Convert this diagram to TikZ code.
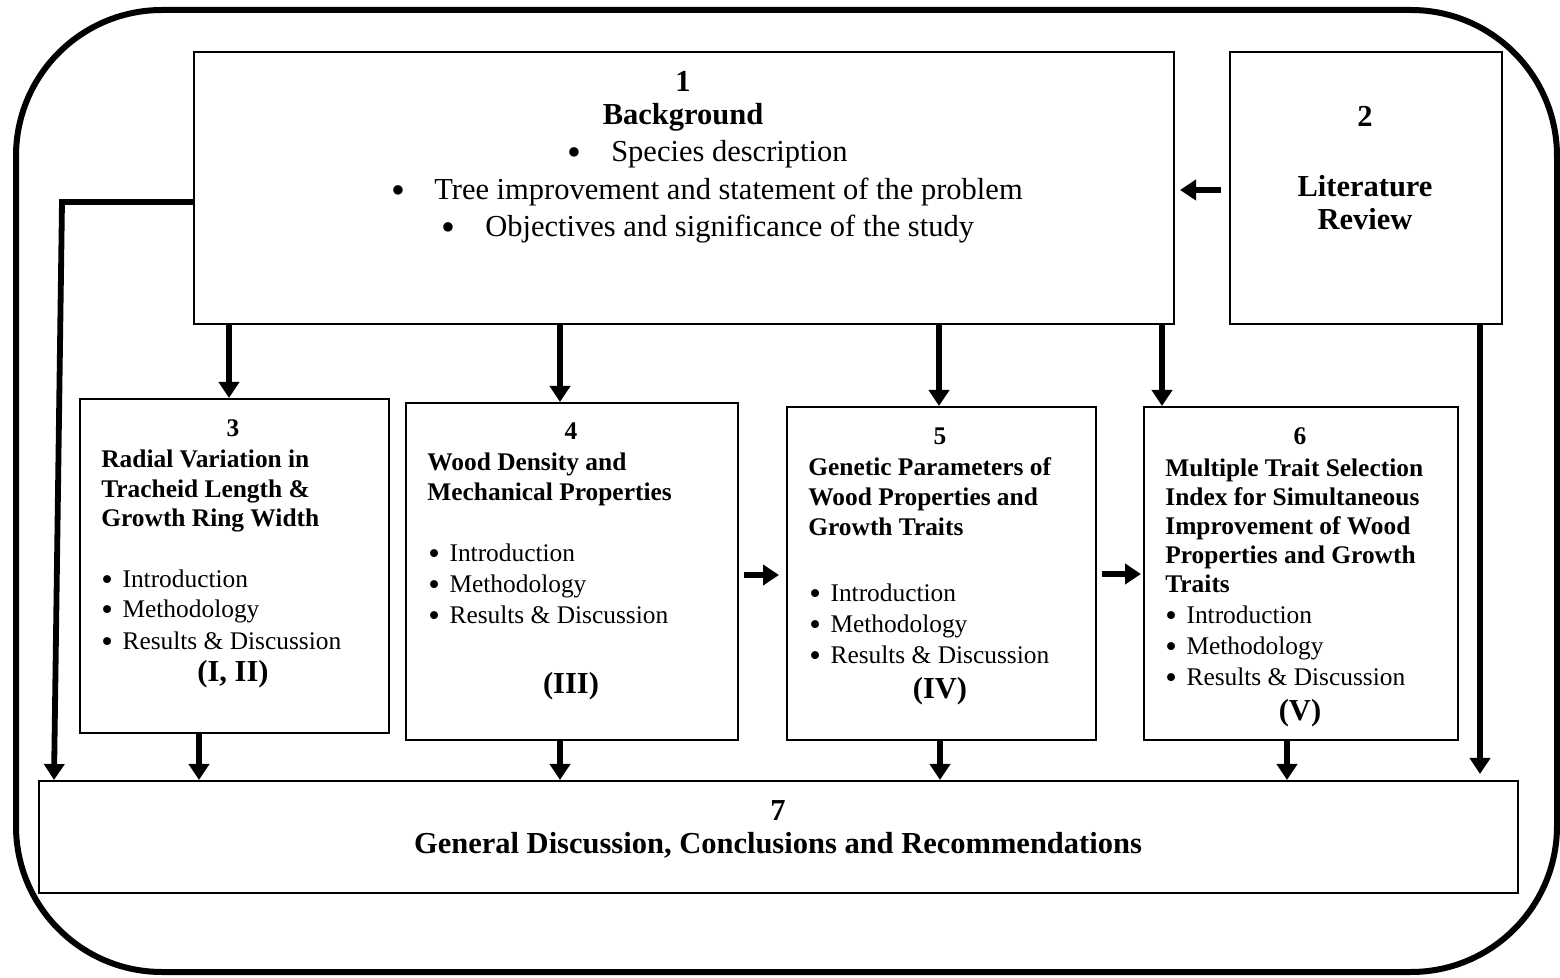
\documentclass[tikz,border=0pt]{standalone}
\usepackage{fontspec}
\setmainfont{Liberation Serif}
\usetikzlibrary{arrows.meta}
\newcommand\fbig{\fontsize{15.25}{18}\selectfont}
\newcommand\fsm{\fontsize{12.7}{15}\selectfont}
\newcommand\bul{\raisebox{-0.1em}{\scalebox{1.3}{\textbullet}}}
\begin{document}
\begin{tikzpicture}[x=0.5pt,y=-0.5pt,
  box/.style={draw, line width=1pt, inner sep=0, anchor=north west},
  arr/.style={line width=2.9pt, line join=miter, -{Triangle[length=8pt,width=10pt]}},
  frame/.style={line width=3pt, rounded corners=73pt},
  tbig/.style={inner sep=0, anchor=base, font=\fbig\bfseries},
  tbody/.style={inner sep=0, anchor=base west, font=\fbig},
  tnum/.style={inner sep=0, anchor=base, font=\fsm\bfseries},
  ttl/.style={inner sep=0, anchor=base west, font=\fsm\bfseries},
  tbul/.style={inner sep=0, anchor=base west, font=\fsm},
]
\useasboundingbox (0,0) rectangle (1560,978);
% outer frame
\draw[frame] (16,10) rectangle (1557,972);

% boxes
\node[box, minimum width=490pt, minimum height=136pt] (b1) at (193,51) {};
\node[box, minimum width=136pt, minimum height=136pt] (b2) at (1229,51) {};
\node[box, minimum width=154.5pt, minimum height=167pt] (b3) at (79,398) {};
\node[box, minimum width=166pt, minimum height=168.5pt] (b4) at (405,402) {};
\node[box, minimum width=154.5pt, minimum height=166.5pt] (b5) at (786,406) {};
\node[box, minimum width=157pt, minimum height=166.5pt] (b6) at (1143,406) {};
\node[box, minimum width=739.5pt, minimum height=56pt] (b7) at (38,780) {};

% box 1 text
\node[tbig] (t1n) at (683,92) {1};
\node[tbig] (t1h) at (683,125) {Background};
\node[tbody] (t1a) at (567,162) {\bul\hspace{15pt}Species description};
\node[tbody] (t1b) at (391,200) {\bul\hspace{14.5pt}Tree improvement and statement of the problem};
\node[tbody] (t1c) at (441,237) {\bul\hspace{15pt}Objectives and significance of the study};

% box 2 text
\node[tbig] (t2n) at (1365,127) {2};
\node[tbig] (t2a) at (1365,197) {Literature};
\node[tbig] (t2b) at (1365,230) {Review};

% box 3 text
\node[tnum] (t3n) at (233,437) {3};
\node[ttl] (t3a) at (101,468) {Radial Variation in};
\node[ttl] (t3b) at (101,498) {Tracheid Length \&};
\node[ttl] (t3c) at (101,527) {Growth Ring Width};
\node[tbul] (t3d) at (101,588) {\bul\hspace{4.8pt}Introduction};
\node[tbul] (t3e) at (101,618) {\bul\hspace{4.8pt}Methodology};
\node[tbul] (t3f) at (101,650) {\bul\hspace{4.8pt}Results \& Discussion};
\node[tbig] (t3g) at (233,682) {(I, II)};

% box 4 text
\node[tnum] (t4n) at (571,440) {4};
\node[ttl] (t4a) at (427,471) {Wood Density and};
\node[ttl] (t4b) at (427,501) {Mechanical Properties};
\node[tbul] (t4d) at (428,562) {\bul\hspace{4.8pt}Introduction};
\node[tbul] (t4e) at (428,593) {\bul\hspace{4.8pt}Methodology};
\node[tbul] (t4f) at (428,624) {\bul\hspace{4.8pt}Results \& Discussion};
\node[tbig] (t4g) at (571,694) {(III)};

% box 5 text
\node[tnum] (t5n) at (940,445) {5};
\node[ttl] (t5a) at (808,476) {Genetic Parameters of};
\node[ttl] (t5b) at (808,506) {Wood Properties and};
\node[ttl] (t5c) at (808,536) {Growth Traits};
\node[tbul] (t5d) at (809,602) {\bul\hspace{4.8pt}Introduction};
\node[tbul] (t5e) at (809,633) {\bul\hspace{4.8pt}Methodology};
\node[tbul] (t5f) at (809,664) {\bul\hspace{4.8pt}Results \& Discussion};
\node[tbig] (t5g) at (940,698) {(IV)};

% box 6 text
\node[tnum] (t6n) at (1300,445) {6};
\node[ttl] (t6a) at (1165,477) {Multiple Trait Selection};
\node[ttl] (t6b) at (1165,506) {Index for Simultaneous};
\node[ttl] (t6c) at (1165,535) {Improvement of Wood};
\node[ttl] (t6d) at (1165,564) {Properties and Growth};
\node[ttl] (t6e) at (1165,593) {Traits};
\node[tbul] (t6f) at (1165,624) {\bul\hspace{4.8pt}Introduction};
\node[tbul] (t6g) at (1165,655) {\bul\hspace{4.8pt}Methodology};
\node[tbul] (t6h) at (1165,686) {\bul\hspace{4.8pt}Results \& Discussion};
\node[tbig] (t6i) at (1300,721) {(V)};

% box 7 text
\node[tbig] (t7n) at (778,820) {7};
\node[tbig] (t7a) at (778,853) {General Discussion, Conclusions and Recommendations};

% helper coordinates
\coordinate (c3) at (229,0);
\coordinate (c4) at (560,0);
\coordinate (c5) at (939,0);
\coordinate (c6) at (1162,0);
\coordinate (d3) at (199,0);
\coordinate (d4) at (560,0);
\coordinate (d5) at (940,0);
\coordinate (d6) at (1287,0);
\coordinate (rr) at (1480,0);
\coordinate (lt) at (62,202);
\coordinate (lb) at (54,0);
\coordinate (h12) at (0,190);
\coordinate (h45) at (0,575);
\coordinate (h56) at (0,574);

% connectors
\draw[arr] (b1.south -| c3) -- (b3.north -| c3);
\draw[arr] (b1.south -| c4) -- (b4.north -| c4);
\draw[arr] (b1.south -| c5) -- (b5.north -| c5);
\draw[arr] (b1.south -| c6) -- (b6.north -| c6);
\draw[arr] (b3.south -| d3) -- (b7.north -| d3);
\draw[arr] (b4.south -| d4) -- (b7.north -| d4);
\draw[arr] (b5.south -| d5) -- (b7.north -| d5);
\draw[arr] (b6.south -| d6) -- (b7.north -| d6);
\draw[arr, shorten >=3pt] (b2.south -| rr) -- (b7.north -| rr);
\draw[arr] (b1.west |- lt) -- (lt) -- (b7.north -| lb);
\draw[arr, shorten <=4pt, shorten >=2.5pt] (b2.west |- h12) -- (b1.east |- h12);
\draw[arr, shorten <=2.5pt, shorten >=3.5pt] (b4.east |- h45) -- (b5.west |- h45);
\draw[arr, shorten <=2.5pt, shorten >=1pt] (b5.east |- h56) -- (b6.west |- h56);
\end{tikzpicture}
\end{document}
